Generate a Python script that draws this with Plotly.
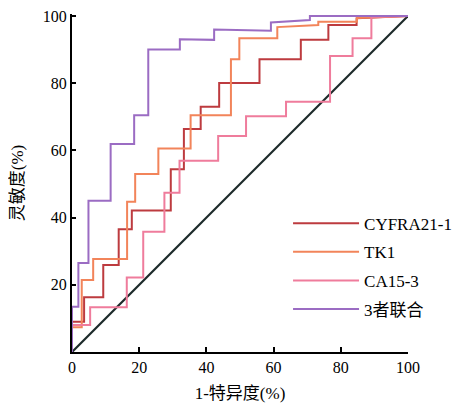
import plotly.graph_objects as go

# ROC step curves (vertices), x = 1-specificity (%), y = sensitivity (%)
cyfra_x = [0, 0, 3.6, 3.6, 9.3, 9.3, 13.9, 13.9, 17.8, 17.8, 29.4, 29.4, 33.3, 33.3, 38.3, 38.3,
           43.8, 43.8, 55.8, 55.8, 68.1, 68.1, 76.3, 76.3, 84.7, 84.7, 100]
cyfra_y = [0, 9.0, 9.0, 16.3, 16.3, 25.9, 25.9, 36.5, 36.5, 42.1, 42.1, 54.4, 54.4, 66.4, 66.4, 73.0,
           73.0, 80.1, 80.1, 87.1, 87.1, 92.9, 92.9, 97.3, 97.3, 99.3, 100]

tk1_x = [0, 0, 2.9, 2.9, 6.3, 6.3, 16.4, 16.4, 18.8, 18.8, 25.7, 25.7, 35.3, 35.3, 47.3, 47.3,
         49.8, 49.8, 61.1, 61.1, 73.3, 73.3, 84.8, 84.8, 100]
tk1_y = [0, 7.4, 7.4, 21.4, 21.4, 27.7, 27.7, 44.7, 44.7, 53.0, 53.0, 60.6, 60.6, 70.5, 70.5, 87.1,
         87.1, 93.4, 93.4, 96.7, 97.3, 98.3, 98.3, 99.4, 100]

ca153_x = [0, 0, 5.4, 5.4, 16.3, 16.3, 21.2, 21.2, 27.5, 27.5, 32.0, 32.0, 43.5, 43.5, 51.8, 51.8,
           63.7, 63.7, 76.8, 76.8, 83.5, 83.5, 89.1, 89.1, 100]
ca153_y = [0, 8.0, 8.0, 13.3, 13.3, 22.2, 22.2, 35.8, 35.8, 47.4, 47.4, 56.9, 56.9, 64.3, 64.3, 70.2,
           70.2, 74.5, 74.5, 88.1, 88.1, 93.4, 93.4, 99.7, 100]

combo_x = [0, 0, 1.9, 1.9, 4.9, 4.9, 11.5, 11.5, 18.5, 18.5, 22.7, 22.7, 32.1, 32.1, 42.3, 42.3,
           59.2, 59.2, 70.8, 70.8, 100]
combo_y = [0, 13.5, 13.5, 26.5, 26.5, 45.0, 45.0, 61.9, 61.9, 70.5, 70.5, 90.0, 90.0, 93.1, 92.9, 96.0,
           95.6, 98.1, 98.8, 100, 100]

ref_x = [0, 100]
ref_y = [0, 100]

series_names = ["CYFRA21-1", "TK1", "CA15-3", "3者联合"]
series_colors = ["#bd3b3f", "#f2845a", "#ef7c9c", "#9b6cc3"]

x_ticks = [0, 20, 40, 60, 80, 100]
y_ticks = [20, 40, 60, 80, 100]

FONT = "Liberation Serif, Times New Roman, Noto Sans CJK SC, serif"

fig = go.Figure()
fig.add_trace(go.Scatter(x=ref_x, y=ref_y, mode="lines", showlegend=False,
                         line=dict(color="#1c2a2a", width=2.2), hoverinfo="skip"))

for name, xs, ys, col in zip(series_names,
                             [cyfra_x, tk1_x, ca153_x, combo_x],
                             [cyfra_y, tk1_y, ca153_y, combo_y],
                             series_colors):
    fig.add_trace(go.Scatter(x=xs, y=ys, mode="lines", name=name, legendgroup=name,
                             line=dict(color=col, width=2)))

# page body adds an 8px offset, so the figure is 8px smaller and margins shifted
fig.update_layout(
    width=452, height=397,
    margin=dict(l=64, r=52, t=6, b=53, autoexpand=False),
    paper_bgcolor="white", plot_bgcolor="white",
    font=dict(family=FONT, size=16, color="black"),
    showlegend=True,
    legend=dict(x=0.643, y=0.433, xanchor="left", yanchor="top",
                bgcolor="rgba(0,0,0,0)", font=dict(size=17, family=FONT),
                itemwidth=66, tracegroupgap=3.5),
)
fig.update_xaxes(range=[0, 100], tickvals=x_ticks, ticks="inside", ticklen=5, tickwidth=1.5,
                 tickcolor="black", showline=True, linecolor="black", linewidth=2,
                 showgrid=False, zeroline=False, automargin=False, ticklabeloverflow="allow",
                 title=dict(text="1-特异度(%)", font=dict(size=17, family=FONT), standoff=12))
fig.update_yaxes(range=[0, 100.6], tickvals=y_ticks, ticks="inside", ticklen=4, tickwidth=1.5,
                 tickcolor="black", showline=True, linecolor="black", linewidth=2,
                 showgrid=False, zeroline=False, automargin=False, ticklabeloverflow="allow",
                 title=dict(text="灵敏度(%)", font=dict(size=17, family=FONT), standoff=24))

fig.write_html("out.html")
